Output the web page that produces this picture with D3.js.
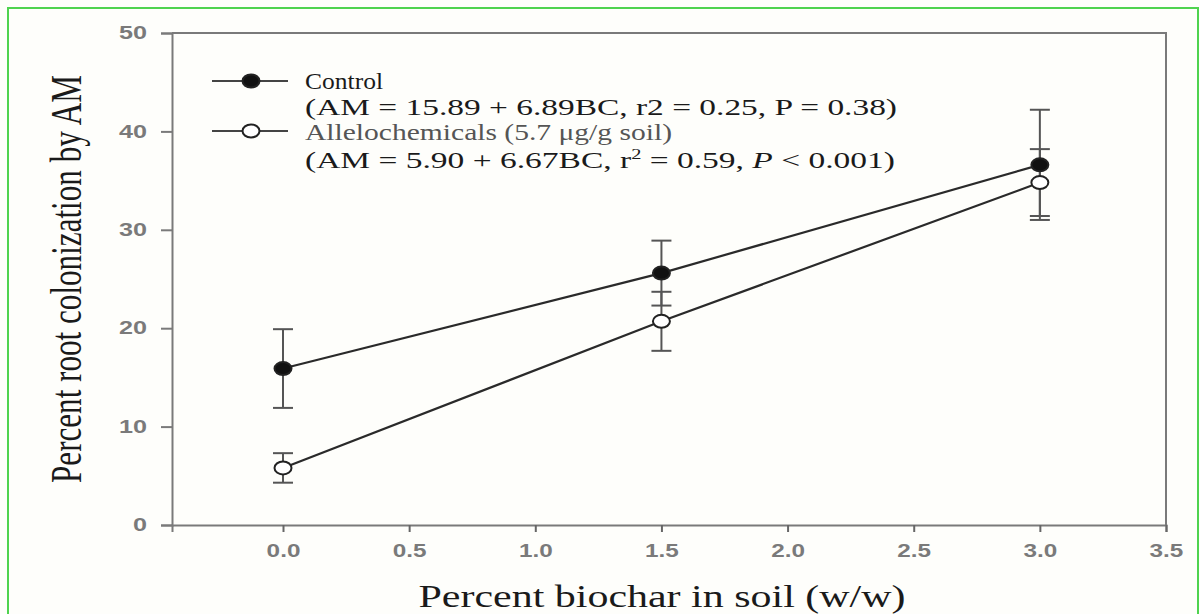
<!DOCTYPE html>
<html>
<head>
<meta charset="utf-8">
<script src="https://cdn.jsdelivr.net/npm/d3@7"></script>
<style>
    body { margin: 0; background: #ffffff; }
    svg { display: block; }
</style>
</head>
<body>
<div id="chart"></div>
<script>
// values
const biochar = [0.0, 1.5, 3.0]
const controlMean = [15.9, 25.6, 36.6]
const controlErr = [4.0, 3.3, 5.6]
const alleloMean = [5.8, 20.7, 34.8]
const alleloErr = [1.5, 3.0, 3.4]
const xTicks = [0.0, 0.5, 1.0, 1.5, 2.0, 2.5, 3.0, 3.5]
const yTicks = [0, 10, 20, 30, 40, 50]
const legendLines = [
    'Control',
    '(AM = 15.89 + 6.89BC, r2 = 0.25, P = 0.38)',
    'Allelochemicals (5.7 \u03bcg/g soil)',
]

const WIDTH = 1200
const HEIGHT = 614
const PLOT = { LEFT: 172, RIGHT: 1166, TOP: 33, BOTTOM: 525 }

const svg = d3.select('#chart')
    .append('svg')
    .attr('width', WIDTH)
    .attr('height', HEIGHT)

// page background + green frame
svg.append('rect')
    .attr('width', WIDTH)
    .attr('height', HEIGHT)
    .attr('fill', '#fefefb')
svg.append('rect')
    .attr('x', 8)
    .attr('y', 8)
    .attr('width', WIDTH - 10)
    .attr('height', HEIGHT + 20)
    .attr('fill', 'none')
    .attr('stroke', '#4fd34f')
    .attr('stroke-width', 2)

const x = d3.scaleLinear().domain([-0.44, 3.5]).range([PLOT.LEFT, PLOT.RIGHT])
const y = d3.scaleLinear().domain([0, 50]).range([PLOT.BOTTOM, PLOT.TOP])

// box top and right
svg.append('path')
    .attr('d', `M${PLOT.LEFT},${PLOT.TOP}H${PLOT.RIGHT}V${PLOT.BOTTOM}`)
    .attr('fill', 'none')
    .attr('stroke', '#7a7a7a')
    .attr('stroke-width', 2)

const tickFont = (sel) => sel
    .attr('font-family', 'Arial, "Liberation Sans", sans-serif')
    .attr('font-size', 18)
    .attr('font-weight', 'bold')
    .attr('fill', '#7a7a7a')

const xAxis = svg.append('g')
    .attr('transform', `translate(0,${PLOT.BOTTOM})`)
    .call(d3.axisBottom(x).tickValues(xTicks).tickFormat(d3.format('.1f'))
        .tickSize(7).tickPadding(12))
xAxis.select('.domain').attr('stroke', '#7a7a7a').attr('stroke-width', 2)
xAxis.selectAll('.tick line').attr('stroke', '#666').attr('stroke-width', 2)
xAxis.selectAll('.tick text').call(tickFont)
    .attr('transform', 'scale(1.35,1)')

const yAxis = svg.append('g')
    .attr('transform', `translate(${PLOT.LEFT},0)`)
    .call(d3.axisLeft(y).tickValues(yTicks).tickFormat(d3.format('d'))
        .tickSize(11).tickPadding(0))
yAxis.select('.domain').attr('stroke', '#7a7a7a').attr('stroke-width', 2)
yAxis.selectAll('.tick line').attr('stroke', '#7a7a7a').attr('stroke-width', 2)
yAxis.selectAll('.tick text').call(tickFont)
    .attr('x', 0)
    .attr('transform', 'translate(-25,0) scale(1.4,1)')

// axis titles (the source image is stretched sideways, so text is too)
svg.append('text')
    .attr('transform', 'translate(81,279) scale(1.55,1) rotate(-90)')
    .attr('text-anchor', 'middle')
    .attr('font-family', '"Liberation Serif", "Times New Roman", serif')
    .attr('font-size', 28)
    .attr('fill', '#1a1a1a')
    .attr('textLength', 408)
    .attr('lengthAdjust', 'spacingAndGlyphs')
    .text('Percent root colonization by AM')

svg.append('text')
    .attr('x', 662)
    .attr('y', 607)
    .attr('text-anchor', 'middle')
    .attr('font-family', '"Liberation Serif", "Times New Roman", serif')
    .attr('font-size', 32)
    .attr('fill', '#1a1a1a')
    .attr('textLength', 487)
    .attr('lengthAdjust', 'spacingAndGlyphs')
    .text('Percent biochar in soil (w/w)')

// series
const series = [
    { mean: controlMean, err: controlErr, fill: '#111' },
    { mean: alleloMean, err: alleloErr, fill: '#fff' },
]

const line = d3.line()
    .x((d) => x(d.x))
    .y((d) => y(d.y))

series.forEach((s) => {
    const pts = biochar.map((b, i) => ({ x: b, y: s.mean[i], e: s.err[i] }))
    const bars = svg.append('g')
        .attr('stroke', '#555')
        .attr('stroke-width', 2)
    pts.forEach((p) => {
        const cx = x(p.x)
        bars.append('line')
            .attr('x1', cx).attr('x2', cx)
            .attr('y1', y(p.y - p.e)).attr('y2', y(p.y + p.e))
        ;[p.y - p.e, p.y + p.e].forEach((v) => {
            bars.append('line')
                .attr('x1', cx - 10).attr('x2', cx + 10)
                .attr('y1', y(v)).attr('y2', y(v))
        })
    })
    s.pts = pts
})

series.forEach((s) => {
    svg.append('path')
        .datum(s.pts)
        .attr('d', line)
        .attr('fill', 'none')
        .attr('stroke', '#2a2a2a')
        .attr('stroke-width', 2.2)
})

series.forEach((s) => {
    svg.selectAll(null)
        .data(s.pts)
        .join('ellipse')
        .attr('cx', (d) => x(d.x))
        .attr('cy', (d) => y(d.y))
        .attr('rx', 8.5)
        .attr('ry', 6.5)
        .attr('fill', s.fill)
        .attr('stroke', '#222')
        .attr('stroke-width', 2)
})

// legend
const legend = svg.append('g')
const legendRows = [
    { y: 81, fill: '#111' },
    { y: 131, fill: '#fff' },
]
legendRows.forEach((r) => {
    legend.append('line')
        .attr('x1', 212).attr('x2', 288)
        .attr('y1', r.y).attr('y2', r.y)
        .attr('stroke', '#444')
        .attr('stroke-width', 2)
    legend.append('ellipse')
        .attr('cx', 251).attr('cy', r.y)
        .attr('rx', 8.5).attr('ry', 6.5)
        .attr('fill', r.fill)
        .attr('stroke', '#222')
        .attr('stroke-width', 2)
})

const legendText = (yPos, len, color) => legend.append('text')
    .attr('x', 305)
    .attr('y', yPos)
    .attr('font-family', '"Liberation Serif", "Times New Roman", serif')
    .attr('font-size', 23)
    .attr('fill', color)
    .attr('textLength', len)
    .attr('lengthAdjust', 'spacingAndGlyphs')

legendText(89, 78, '#1a1a1a').text(legendLines[0])
legendText(115, 592, '#1a1a1a').text(legendLines[1])
legendText(140, 367, '#555').text(legendLines[2])

const last = legendText(168, 590, '#1a1a1a')
last.append('tspan').text('(AM = 5.90 + 6.67BC, r')
last.append('tspan').attr('dy', -9).attr('font-size', 14).text('2')
last.append('tspan').attr('dy', 9).text(' = 0.59, ')
last.append('tspan').attr('font-style', 'italic').text('P')
last.append('tspan').text(' < 0.001)')
</script>
</body>
</html>
